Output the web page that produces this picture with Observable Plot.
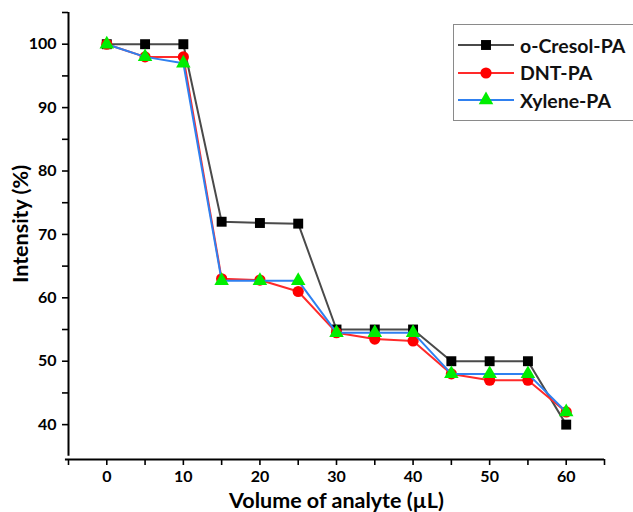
<!DOCTYPE html>
<html>
<head>
<meta charset="utf-8">
<script src="https://cdn.jsdelivr.net/npm/d3@7"></script>
<script src="https://cdn.jsdelivr.net/npm/@observablehq/plot@0.6"></script>
<style>
  html, body { margin: 0; padding: 0; background: #fff; }
  #wrap { position: relative; width: 633px; height: 512px; overflow: hidden; font-family: Lato, "Open Sans", sans-serif; }
  #legend { position: absolute; left: 453px; top: 24px; width: 200px; height: 97px; border: 1.5px solid #8a8a8a; background: #fff; box-sizing: border-box; }
  .row { position: absolute; left: 4px; height: 24px; display: flex; align-items: center; }
  .row span { font-weight: bold; font-size: 19.5px; color: #111; margin-left: 6px; }
</style>
</head>
<body>
<div id="wrap">
  <div id="chart"></div>
  <div id="legend"></div>
</div>
<script>
// Volume of analyte added (µL)
const volume = [0, 5, 10, 15, 20, 25, 30, 35, 40, 45, 50, 55, 60];
// Emission intensity (%) for each analyte
const cresol = [100, 100, 100, 72, 71.8, 71.7, 55, 55, 55, 50, 50, 50, 40];
const dnt    = [100, 98, 98, 63, 62.8, 61, 54.5, 53.5, 53.2, 48, 47, 47, 42];
const xylene = [100, 98, 97, 62.7, 62.7, 62.7, 54.5, 54.5, 54.5, 48, 48, 48, 42];

const seriesNames = ["o-Cresol-PA", "DNT-PA", "Xylene-PA"];
const seriesValues = [cresol, dnt, xylene];
const lineColors = ["#4a4a4a", "#ff2a2a", "#2f80f0"];
const markColors = ["#000000", "#ff0000", "#00ee00"];
const symbols = ["square", "circle", "triangle"];
const symbolR = [5.6, 5.6, 5.4];

const xMajor = [0, 10, 20, 30, 40, 50, 60];
const xMinor = [-5, 5, 15, 25, 35, 45, 55, 65];
const yMajor = [40, 50, 60, 70, 80, 90, 100];
const yMinor = [45, 55, 65, 75, 85, 95, 105];

const series = seriesNames.map((name, i) =>
  volume.map((v, j) => ({name, x: v, y: seriesValues[i][j]}))
);

const marks = [
  // axis lines
  Plot.ruleX([-5], {y1: 35, y2: 105, stroke: "#000", strokeWidth: 2}),
  Plot.ruleY([34.5], {x1: -5.4, x2: 65, stroke: "#000", strokeWidth: 2}),
  Plot.axisX(xMajor, {tickSize: 6, tickPadding: 5, label: null, fontSize: 16, fontWeight: "bold", strokeWidth: 1.6}),
  Plot.axisX(xMinor, {tickSize: 6, tickFormat: () => "", label: null, strokeWidth: 1.6}),
  Plot.axisY(yMajor, {tickSize: 6, tickPadding: 6, label: null, fontSize: 16, fontWeight: "bold", strokeWidth: 1.6}),
  Plot.axisY(yMinor, {tickSize: 6, tickFormat: () => "", label: null, strokeWidth: 1.6}),
  Plot.text(["Volume of analyte (µL)"], {frameAnchor: "bottom", lineAnchor: "middle", textAnchor: "middle", dy: 42, fontSize: 21.5, fontWeight: "bold", fill: "#000"}),
  Plot.text(["Intensity (%)"], {frameAnchor: "left", lineAnchor: "middle", textAnchor: "middle", dx: -47, dy: -12, rotate: -90, fontSize: 21.5, fontWeight: "bold", fill: "#000"})
];

series.forEach((data, i) => {
  marks.push(Plot.line(data, {x: "x", y: "y", stroke: lineColors[i], strokeWidth: 2}));
  marks.push(Plot.dot(data, {x: "x", y: "y", symbol: () => symbols[i], r: symbolR[i], fill: markColors[i], stroke: "none"}));
});

const chart = Plot.plot({
  width: 633,
  height: 512,
  marginLeft: 68,
  marginRight: 29,
  marginTop: 12,
  marginBottom: 53,
  x: {domain: [-5, 65]},
  y: {domain: [34.5, 105]},
  symbol: {type: "identity"},
  style: {fontFamily: "Lato, 'Open Sans', sans-serif", color: "#000", background: "#fff", overflow: "visible"},
  marks
});
document.getElementById("chart").appendChild(chart);

// Legend: line sample with marker, then series name
const legend = d3.select("#legend");
seriesNames.forEach((name, i) => {
  const row = legend.append("div").attr("class", "row").style("top", `${8 + i * 27.5}px`);
  const svg = row.append("svg").attr("width", 56).attr("height", 20);
  svg.append("line").attr("x1", 0).attr("x2", 56).attr("y1", 10).attr("y2", 10)
    .attr("stroke", lineColors[i]).attr("stroke-width", 2);
  svg.append("path").attr("transform", "translate(28,10)")
    .attr("d", d3.symbol(d3["symbol" + symbols[i][0].toUpperCase() + symbols[i].slice(1)], Math.PI * symbolR[i] * symbolR[i])())
    .attr("fill", markColors[i]);
  row.append("span").text(name);
});
</script>
</body>
</html>
